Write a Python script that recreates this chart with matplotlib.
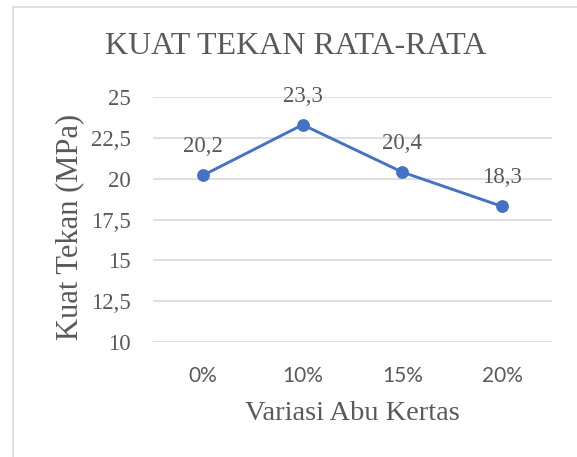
import matplotlib
matplotlib.use("Agg")
import matplotlib.pyplot as plt
from matplotlib.patches import Rectangle

categories = ["0%", "10%", "15%", "20%"]
values = [20.2, 23.3, 20.4, 18.3]
value_labels = ["20,2", "23,3", "20,4", "18,3"]
yticks = [10, 12.5, 15, 17.5, 20, 22.5, 25]
ytick_labels = ["10", "12,5", "15", "17,5", "20", "22,5", "25"]

serif = ["Liberation Serif", "DejaVu Serif"]
sans = ["Lato", "DejaVu Sans"]
txt = "#595959"
blue = "#4472C4"

fig = plt.figure(figsize=(5.77, 4.57), dpi=100)
fig.patches.append(Rectangle((13/577, -0.1), 1.2, 1 - 7/457 + 0.1, transform=fig.transFigure,
                             fill=False, edgecolor="#d9d9d9", linewidth=1.2))
ax = fig.add_axes([153/577, 1 - 342/457, (552-153)/577, (342-97)/457])

x = list(range(len(categories)))
ax.plot(x, values, color=blue, linewidth=2.1, marker="o", markersize=8.2, zorder=3)
for xi, v, lab in zip(x, values, value_labels):
    ax.annotate(lab, (xi, v), xytext=(0, 13), textcoords="offset points",
                ha="center", va="bottom", fontsize=16.5, family=serif, color=txt)

ax.set_xlim(-0.5, len(categories) - 0.5)
ax.set_ylim(10, 25)
ax.set_yticks(yticks)
ax.set_yticklabels(ytick_labels, family=serif, fontsize=16.5, color=txt)
ax.set_xticks(x)
ax.set_xticklabels(categories, family=sans, fontsize=15, color=txt)
ax.tick_params(length=0)
ax.tick_params(axis="x", pad=17)
ax.tick_params(axis="y", pad=16)
ax.grid(axis="y", color="#d9d9d9", linewidth=1.2)
ax.set_axisbelow(True)
for s in ax.spines.values():
    s.set_visible(False)

ax.set_ylabel("Kuat Tekan (MPa)", family=serif, fontsize=22, color=txt, labelpad=4)
ax.yaxis.set_label_coords(-0.172, 0.47)
ax.set_xlabel("Variasi Abu Kertas", family=serif, fontsize=20.5, color=txt, labelpad=11)
fig.text(296/577, 1 - 46/457, "KUAT TEKAN RATA-RATA", family=serif, fontsize=23,
         color=txt, ha="center", va="center")

fig.savefig("out.png", dpi=100)
